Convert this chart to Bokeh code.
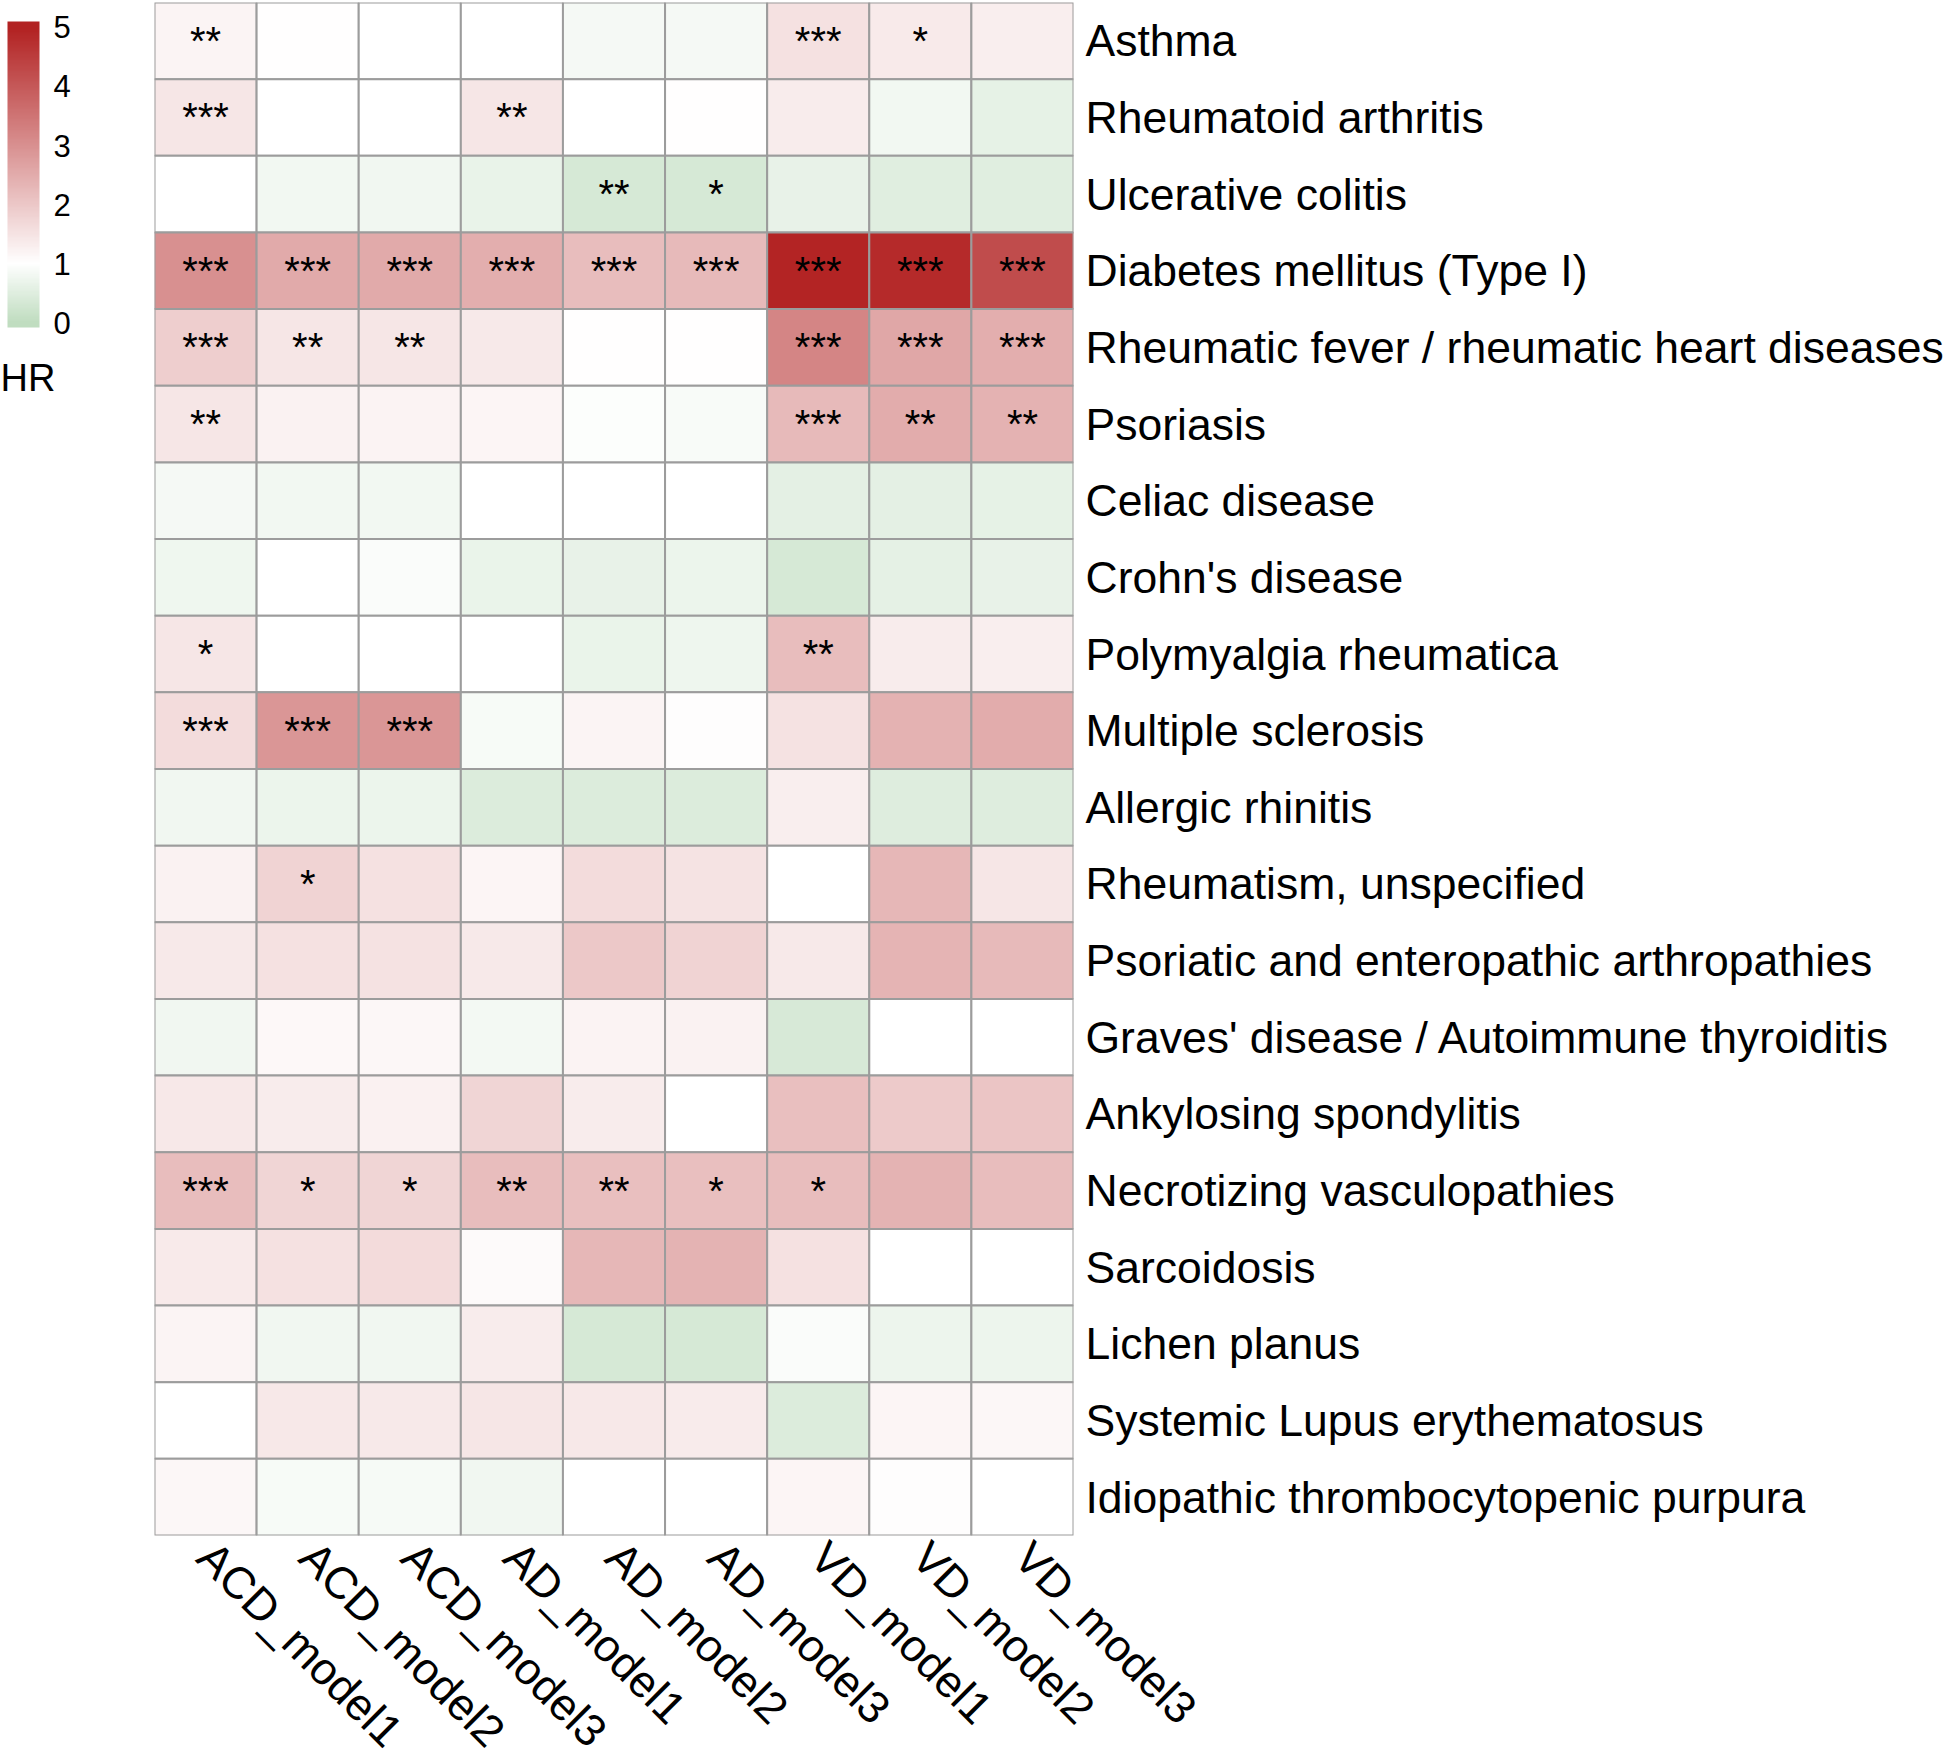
import math
import numpy as np
from bokeh.plotting import figure
from bokeh.models import (LinearColorMapper, ColorBar, FixedTicker, ColumnDataSource,
                          FactorRange)
from bokeh.transform import transform
from bokeh.core.properties import value
from bokeh.embed import file_html
from bokeh.resources import INLINE

FONT = "Liberation Sans"

models = ["ACD_model1", "ACD_model2", "ACD_model3", "AD_model1", "AD_model2",
          "AD_model3", "VD_model1", "VD_model2", "VD_model3"]

diseases = [
    "Asthma", "Rheumatoid arthritis", "Ulcerative colitis", "Diabetes mellitus (Type I)",
    "Rheumatic fever / rheumatic heart diseases", "Psoriasis", "Celiac disease",
    "Crohn's disease", "Polymyalgia rheumatica", "Multiple sclerosis", "Allergic rhinitis",
    "Rheumatism, unspecified", "Psoriatic and enteropathic arthropathies",
    "Graves' disease / Autoimmune thyroiditis", "Ankylosing spondylitis",
    "Necrotizing vasculopathies", "Sarcoidosis", "Lichen planus",
    "Systemic Lupus erythematosus", "Idiopathic thrombocytopenic purpura",
]

# Hazard ratios, one list per model, rows in disease order
acd_model1 = [1.2, 1.45, 1.01, 3.0, 1.9, 1.45, 0.84, 0.76, 1.45, 1.62, 0.78, 1.25, 1.4, 0.78, 1.42, 2.2, 1.38, 1.2, 1.0, 1.15]
acd_model2 = [1.02, 1.0, 0.80, 2.55, 1.45, 1.25, 0.8, 1.0, 1.0, 2.9, 0.7, 1.8, 1.55, 1.12, 1.35, 1.78, 1.55, 0.78, 1.42, 0.88]
acd_model3 = [1.0, 1.0, 0.78, 2.55, 1.45, 1.22, 0.8, 0.92, 1.0, 2.9, 0.7, 1.55, 1.52, 1.15, 1.27, 1.77, 1.65, 0.78, 1.4, 0.86]
ad_model1 = [1.0, 1.45, 0.65, 2.45, 1.4, 1.18, 1.0, 0.68, 1.0, 0.88, 0.45, 1.18, 1.4, 0.82, 1.78, 2.2, 1.1, 1.35, 1.45, 0.78]
ad_model2 = [0.84, 1.0, 0.36, 2.2, 1.03, 0.96, 1.0, 0.64, 0.68, 1.2, 0.45, 1.62, 2.0, 1.22, 1.35, 2.15, 2.3, 0.36, 1.42, 1.0]
ad_model3 = [0.84, 1.02, 0.36, 2.25, 1.03, 0.9, 1.0, 0.7, 0.73, 1.04, 0.45, 1.5, 1.8, 1.25, 1.0, 2.15, 2.38, 0.36, 1.37, 1.0]
vd_model1 = [1.55, 1.35, 0.64, 4.95, 3.2, 2.25, 0.58, 0.36, 2.2, 1.52, 1.3, 1.0, 1.4, 0.37, 2.15, 2.2, 1.55, 0.92, 0.45, 1.18]
vd_model2 = [1.38, 0.80, 0.52, 4.85, 2.6, 2.5, 0.58, 0.6, 1.35, 2.4, 0.47, 2.3, 2.35, 1.0, 1.95, 2.38, 1.0, 0.72, 1.18, 1.05]
vd_model3 = [1.3, 0.62, 0.52, 4.25, 2.45, 2.4, 0.62, 0.63, 1.3, 2.5, 0.47, 1.45, 2.25, 1.0, 2.05, 2.2, 1.0, 0.72, 1.14, 1.0]

# Significance marks
acd_model1_sig = ["**", "***", "", "***", "***", "**", "", "", "*", "***", "", "", "", "", "", "***", "", "", "", ""]
acd_model2_sig = ["", "", "", "***", "**", "", "", "", "", "***", "", "*", "", "", "", "*", "", "", "", ""]
acd_model3_sig = ["", "", "", "***", "**", "", "", "", "", "***", "", "", "", "", "", "*", "", "", "", ""]
ad_model1_sig = ["", "**", "", "***", "", "", "", "", "", "", "", "", "", "", "", "**", "", "", "", ""]
ad_model2_sig = ["", "", "**", "***", "", "", "", "", "", "", "", "", "", "", "", "**", "", "", "", ""]
ad_model3_sig = ["", "", "*", "***", "", "", "", "", "", "", "", "", "", "", "", "*", "", "", "", ""]
vd_model1_sig = ["***", "", "", "***", "***", "***", "", "", "**", "", "", "", "", "", "", "*", "", "", "", ""]
vd_model2_sig = ["*", "", "", "***", "***", "**", "", "", "", "", "", "", "", "", "", "", "", "", "", ""]
vd_model3_sig = ["", "", "", "***", "***", "**", "", "", "", "", "", "", "", "", "", "", "", "", "", ""]

legend_ticks = [0, 1, 2, 3, 4, 5]
legend_title = "HR"

hr_cols = [acd_model1, acd_model2, acd_model3, ad_model1, ad_model2, ad_model3,
           vd_model1, vd_model2, vd_model3]
sig_cols = [acd_model1_sig, acd_model2_sig, acd_model3_sig, ad_model1_sig, ad_model2_sig,
            ad_model3_sig, vd_model1_sig, vd_model2_sig, vd_model3_sig]

xs, ys, hrs, sigs = [], [], [], []
for m, hv, sv in zip(models, hr_cols, sig_cols):
    for d, h, s in zip(diseases, hv, sv):
        xs.append(m)
        ys.append(d)
        hrs.append(h)
        sigs.append(s)
src = ColumnDataSource(dict(model=xs, disease=ys, hr=hrs, sig=sigs))

# colour scale: green (0) -> white (1) -> firebrick (5)
low, high = -0.08, 5.1
c_green = (192, 221, 192)
c_white = (255, 255, 255)
c_red = (178, 34, 34)
pal = []
for v in np.linspace(low, high, 256):
    if v <= 1:
        t = min(max(v, 0.0), 1.0)
        c = [g + (w - g) * t for g, w in zip(c_green, c_white)]
    else:
        t = min((v - 1) / 4.0, 1.0)
        c = [w + (r - w) * t for w, r in zip(c_white, c_red)]
    pal.append("#%02x%02x%02x" % tuple(int(round(x)) for x in c))
mapper = LinearColorMapper(palette=pal, low=low, high=high)

FRAME_W, FRAME_H, LEFT, TOP = 919, 1533, 154, 2

p = figure(x_range=FactorRange(*models), y_range=FactorRange(*diseases[::-1]),
           frame_width=FRAME_W, frame_height=FRAME_H, output_backend="svg",
           toolbar_location=None, x_axis_location="below", y_axis_location="right",
           min_border_left=LEFT, min_border_top=TOP, min_border_right=0, min_border_bottom=0)
p.rect(x="model", y="disease", width=1, height=1, source=src,
       fill_color=transform("hr", mapper), line_color="#9c9c9c", line_width=2)
p.text(x="model", y="disease", text="sig", source=src, text_align="center",
       text_baseline="middle", text_font=value(FONT), text_font_size="40px",
       y_offset=0, text_color="black")
p.xgrid.visible = False
p.ygrid.visible = False
p.outline_line_color = None

p.xaxis.major_label_orientation = -math.pi / 4
p.xaxis.major_label_text_font = FONT
p.xaxis.major_label_text_font_size = "45px"
p.xaxis.major_label_text_color = "black"
p.xaxis.axis_line_color = None
p.xaxis.major_tick_line_color = None
p.xaxis.major_tick_out = 0
p.xaxis.major_label_standoff = 14

p.yaxis.major_label_text_font = FONT
p.yaxis.major_label_text_font_size = "44.5px"
p.yaxis.major_label_text_color = "black"
p.yaxis.axis_line_color = None
p.yaxis.major_tick_line_color = None
p.yaxis.major_tick_out = 0
p.yaxis.major_label_standoff = 12

# colour legend left of the heatmap (location relative to frame bottom-left)
bar_left, bar_top, bar_h = 7, 21, 306
cb = ColorBar(color_mapper=mapper, ticker=FixedTicker(ticks=legend_ticks), width=32, height=bar_h,
              location=(bar_left - LEFT, TOP + FRAME_H - (bar_top + bar_h)), margin=0, padding=0,
              label_standoff=14, major_tick_line_color=None, bar_line_color=None,
              border_line_color=None, background_fill_color=None, background_fill_alpha=0,
              major_label_text_font=FONT, major_label_text_font_size="31px",
              major_label_text_color="black")
p.add_layout(cb)

# legend title "HR" below the bar: horizontal title of a second, bar-less colour bar anchor
title_bottom = 400
cb_title = ColorBar(color_mapper=mapper, ticker=FixedTicker(ticks=[0]), orientation="horizontal",
                    width=30, height=2,
                    location=(0 - LEFT, TOP + FRAME_H - title_bottom), margin=0, padding=0,
                    scale_alpha=0, bar_line_color=None, border_line_color=None,
                    background_fill_color=None, background_fill_alpha=0,
                    major_tick_line_color=None, minor_tick_line_color=None,
                    major_label_text_alpha=0, major_label_text_font_size="1px",
                    label_standoff=0,
                    title=legend_title, title_standoff=0, title_text_font=FONT,
                    title_text_font_size="38px", title_text_font_style="normal",
                    title_text_color="black")
p.add_layout(cb_title)

open("out.html", "w").write(file_html(p, INLINE))
